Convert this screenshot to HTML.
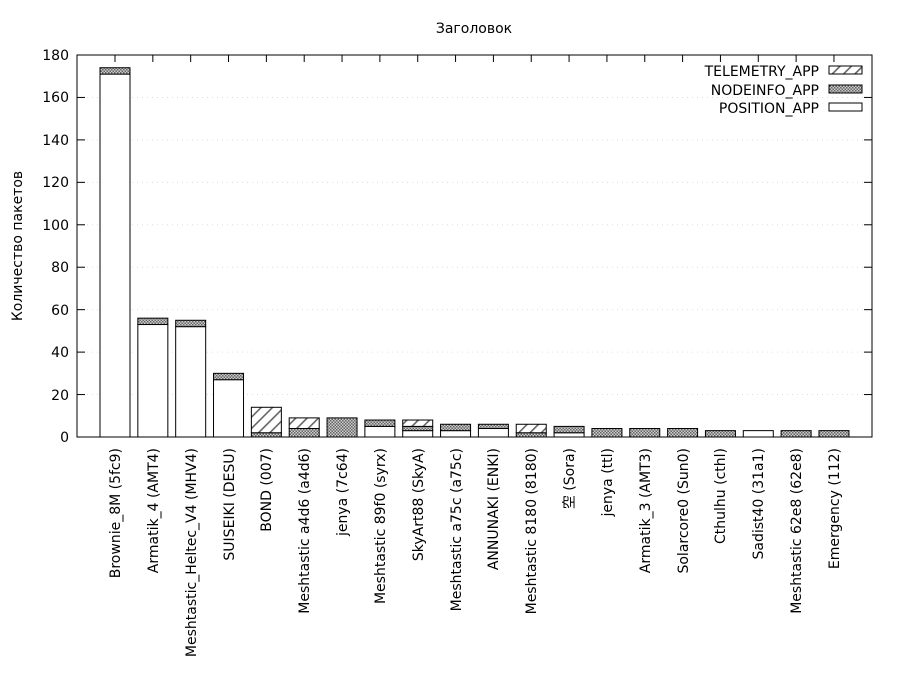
<!DOCTYPE html>
<html><head><meta charset="utf-8"><style>body{margin:0;background:#fff}svg{display:block}text{font-family:"DejaVu Sans","Liberation Sans","Noto Sans CJK KR",sans-serif;font-size:14px;fill:#000}</style></head><body>
<svg id="s" width="900" height="700" xmlns="http://www.w3.org/2000/svg">
<defs>
<pattern id="tel" width="8" height="8" patternUnits="userSpaceOnUse" patternTransform="rotate(45)"><rect width="8" height="8" fill="#fff"/><rect x="0" y="0" width="1.6" height="8" fill="#666"/></pattern>
<pattern id="node" width="3" height="3" patternUnits="userSpaceOnUse"><rect width="3" height="3" fill="#ccc"/><rect width="1.5" height="1.5" fill="#666"/><rect x="1.5" y="1.5" width="1.5" height="1.5" fill="#666"/></pattern>
</defs>
<rect x="0" y="0" width="900" height="700" fill="#fff"/>
<g id="grid" stroke="#ddd" stroke-dasharray="1,4" stroke-width="1"></g>
<g id="bars"></g>
<rect x="77" y="55" width="795" height="382" fill="none" stroke="#000" stroke-width="1"/>
<text x="474" y="33" text-anchor="middle">Заголовок</text>
<text transform="translate(22,246) rotate(-90)" text-anchor="middle">Количество пакетов</text>
<g text-anchor="end">
<text x="69" y="442">0</text><text x="69" y="400">20</text><text x="69" y="357">40</text><text x="69" y="315">60</text><text x="69" y="272">80</text><text x="69" y="230">100</text><text x="69" y="187">120</text><text x="69" y="145">140</text><text x="69" y="102">160</text><text x="69" y="60">180</text>
</g>
<g text-anchor="end">
<text transform="translate(120,448) rotate(-90)">Brownie_8M (5fc9)</text>
<text transform="translate(158,448) rotate(-90)">Armatik_4 (AMT4)</text>
<text transform="translate(196,448) rotate(-90)">Meshtastic_Heltec_V4 (MHV4)</text>
<text transform="translate(234,448) rotate(-90)">SUISEIKI (DESU)</text>
<text transform="translate(271,448) rotate(-90)">BOND (007)</text>
<text transform="translate(309,448) rotate(-90)">Meshtastic a4d6 (a4d6)</text>
<text transform="translate(347,448) rotate(-90)">jenya (7c64)</text>
<text transform="translate(385,448) rotate(-90)">Meshtastic 89f0 (syrx)</text>
<text transform="translate(423,448) rotate(-90)">SkyArt88 (SkyA)</text>
<text transform="translate(461,448) rotate(-90)">Meshtastic a75c (a75c)</text>
<text transform="translate(498,448) rotate(-90)">ANNUNAKI (ENKI)</text>
<text transform="translate(536,448) rotate(-90)">Meshtastic 8180 (8180)</text>
<text transform="translate(574,448) rotate(-90)">空 (Sora)</text>
<text transform="translate(612,448) rotate(-90)">jenya (ttl)</text>
<text transform="translate(650,448) rotate(-90)">Armatik_3 (AMT3)</text>
<text transform="translate(688,448) rotate(-90)">Solarcore0 (Sun0)</text>
<text transform="translate(725,448) rotate(-90)">Cthulhu (cthl)</text>
<text transform="translate(763,448) rotate(-90)">Sadist40 (31a1)</text>
<text transform="translate(801,448) rotate(-90)">Meshtastic 62e8 (62e8)</text>
<text transform="translate(839,448) rotate(-90)">Emergency (112)</text>
</g>
<g text-anchor="end">
<text x="819" y="76">TELEMETRY_APP</text>
<text x="819" y="95">NODEINFO_APP</text>
<text x="819" y="113">POSITION_APP</text>
</g>
<rect x="829" y="66" width="33" height="8" fill="url(#tel)" stroke="#000"/>
<rect x="829" y="85" width="33" height="8" fill="url(#node)" stroke="#000"/>
<rect x="829" y="103" width="33" height="8" fill="#fff" stroke="#000"/>
</svg>
<script>
var d=[[171,3,0],[53,3,0],[52,3,0],[27,3,0],[0,2,12],[0,4,5],[0,9,0],[5,3,0],[3,2,3],[3,3,0],[4,2,0],[0,2,4],[2,3,0],[0,4,0],[0,4,0],[0,4,0],[0,3,0],[3,0,0],[0,3,0],[0,3,0]];
var ns="http://www.w3.org/2000/svg",g=document.getElementById('bars'),gr=document.getElementById('grid');
var k=382/180;
for(var v=20;v<180;v+=20){var y=437-v*k;var l=document.createElementNS(ns,'line');l.setAttribute('x1',77);l.setAttribute('x2',872);l.setAttribute('y1',y);l.setAttribute('y2',y);gr.appendChild(l);
var t=document.createElementNS(ns,'line');t.setAttribute('x1',77);t.setAttribute('x2',85);t.setAttribute('y1',y);t.setAttribute('y2',y);t.setAttribute('stroke','#000');g.appendChild(t);
var t2=document.createElementNS(ns,'line');t2.setAttribute('x1',864);t2.setAttribute('x2',872);t2.setAttribute('y1',y);t2.setAttribute('y2',y);t2.setAttribute('stroke','#000');g.appendChild(t2);}
var fills=['#fff','url(#node)','url(#tel)'];
d.forEach(function(r,i){var c=115+37.84*i;var base=0;
var tk=document.createElementNS(ns,'line');tk.setAttribute('x1',c);tk.setAttribute('x2',c);tk.setAttribute('y1',55);tk.setAttribute('y2',62);tk.setAttribute('stroke','#000');g.appendChild(tk);
r.forEach(function(v,j){if(!v)return;var e=document.createElementNS(ns,'rect');e.setAttribute('x',c-15);e.setAttribute('width',30);e.setAttribute('y',437-(base+v)*k);e.setAttribute('height',v*k);e.setAttribute('fill',fills[j]);e.setAttribute('stroke','#000');g.appendChild(e);base+=v;});});
</script>
</body></html>
